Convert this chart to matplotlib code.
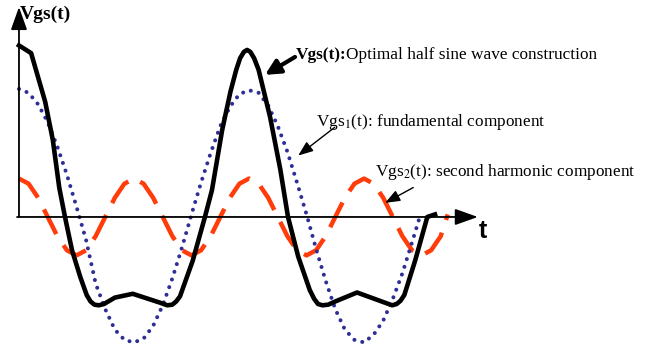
import matplotlib
matplotlib.use("Agg")
import matplotlib.pyplot as plt

# phase in degrees of the fundamental, values normalised to the fundamental amplitude
t_total = [0, 19, 41, 53, 63, 72, 83, 96, 106, 112, 118, 125, 133, 150, 178, 221, 232,
           240, 246, 252, 272, 291, 302, 318, 331, 340, 346, 352, 357, 362, 368, 375,
           393, 409, 421, 437, 455, 462, 468, 475, 484, 495, 529, 584, 591, 597, 603,
           620, 639, 651]
v_total = [1.34, 1.28, 0.90, 0.60, 0.23, 0.0, -0.26, -0.47, -0.61, -0.66, -0.685, -0.69,
           -0.68, -0.63, -0.60, -0.67, -0.69, -0.685, -0.66, -0.62, -0.34, 0.0, 0.21,
           0.68, 0.98, 1.15, 1.24, 1.29, 1.305, 1.29, 1.24, 1.15, 0.78, 0.37, 0.0, -0.31,
           -0.57, -0.64, -0.68, -0.69, -0.685, -0.66, -0.59, -0.69, -0.68, -0.655, -0.61,
           -0.34, 0.0, 0.02]

t_fund = [0, 15, 30, 45, 60, 75, 90, 105, 120, 135, 150, 165, 180, 195, 210, 225, 240,
          255, 270, 285, 300, 315, 330, 345, 360, 375, 390, 405, 420, 435, 450, 465, 480,
          495, 510, 525, 540, 555, 570, 585, 600, 615, 629]
v_fund = [1.0, 0.97, 0.88, 0.74, 0.55, 0.33, 0.08, -0.18, -0.52, -0.72, -0.88, -0.96,
          -0.98, -0.95, -0.85, -0.69, -0.48, -0.24, 0.02, 0.27, 0.5, 0.71, 0.86, 0.96,
          0.99, 0.97, 0.87, 0.71, 0.51, 0.27, 0.02, -0.25, -0.5, -0.72, -0.88, -0.96,
          -0.98, -0.92, -0.81, -0.64, -0.44, -0.2, 0.03]

t_harm = [0, 15, 30, 45, 60, 75, 90, 105, 120, 135, 150, 165, 180, 195, 210, 225, 240,
          255, 270, 285, 300, 315, 330, 345, 360, 375, 390, 405, 420, 435, 450, 465, 480,
          495, 510, 525, 540, 555, 570, 585, 600, 615, 630, 645, 660, 671]
v_harm = [0.30, 0.26, 0.15, 0.0, -0.15, -0.26, -0.30, -0.26, -0.15, 0.0, 0.15, 0.26,
          0.30, 0.26, 0.15, 0.0, -0.15, -0.26, -0.30, -0.26, -0.15, 0.0, 0.15, 0.26,
          0.30, 0.26, 0.15, 0.0, -0.15, -0.26, -0.30, -0.26, -0.15, 0.0, 0.15, 0.26,
          0.30, 0.26, 0.15, 0.0, -0.15, -0.26, -0.30, -0.26, -0.15, 0.02]

plt.rcParams['mathtext.fontset'] = 'stix'
serif = 'Liberation Serif'

fig = plt.figure(figsize=(6.5, 3.51), dpi=100)
ax = fig.add_axes([0, 0, 1, 1])
ax.set_xlim(-29.7, 987.5)
ax.set_ylim(-1.047, 1.695)
ax.axis('off')

# axes with arrow heads
arrow_kw = dict(arrowstyle='-|>,head_length=1.4,head_width=0.5', color='black',
                lw=1.3, mutation_scale=10, shrinkA=0, shrinkB=0)
ax.annotate('', xy=(0, 1.64), xytext=(0, 0), arrowprops=arrow_kw)
ax.annotate('', xy=(718, 0), xytext=(-3, 0), arrowprops=arrow_kw)

ax.plot(t_harm, v_harm, color='#ff3c0a', lw=3.2, dashes=(6.2, 3.0), solid_capstyle='butt')
ax.plot(t_fund, v_fund, color='#2e2e96', lw=2.9, linestyle=(0, (0.01, 2.0)),
        dash_capstyle='round')
ax.plot(t_total, v_total, color='black', lw=3.3, solid_joinstyle='round')

ax.text(1.5, 1.58, 'Vgs(t)', family=serif, weight='bold', fontsize=14, va='center')
ax.text(719, -0.11, 't', family='Liberation Sans', weight='bold', fontsize=18, va='center')

# bold lead-in followed directly by the regular description
lead = ax.text(433, 1.235, 'Vgs(t):', family=serif, weight='bold', fontsize=12.4,
               va='baseline')
ax.annotate('Optimal half sine wave construction', xy=(1, 0), xycoords=lead,
            va='bottom', family=serif, fontsize=12.4)
ax.text(465, 0.74, r'Vgs$_1$(t): fundamental component', family=serif, fontsize=12.4,
        va='center')
ax.text(557, 0.35, r'Vgs$_2$(t): second harmonic component', family=serif, fontsize=12.4,
        va='center')

ax.annotate('', xy=(385, 1.11), xytext=(432, 1.25),
            arrowprops=dict(arrowstyle='-|>,head_length=0.9,head_width=0.45',
                            color='black', lw=3, mutation_scale=10, shrinkA=0, shrinkB=0))
thin = dict(arrowstyle='-|>,head_length=0.9,head_width=0.35', color='black', lw=1,
            mutation_scale=10, shrinkA=0, shrinkB=0)
ax.annotate('', xy=(437, 0.48), xytext=(494, 0.70), arrowprops=thin)
ax.annotate('', xy=(573, 0.11), xytext=(617, 0.23), arrowprops=thin)

fig.savefig('out.png', dpi=100)
